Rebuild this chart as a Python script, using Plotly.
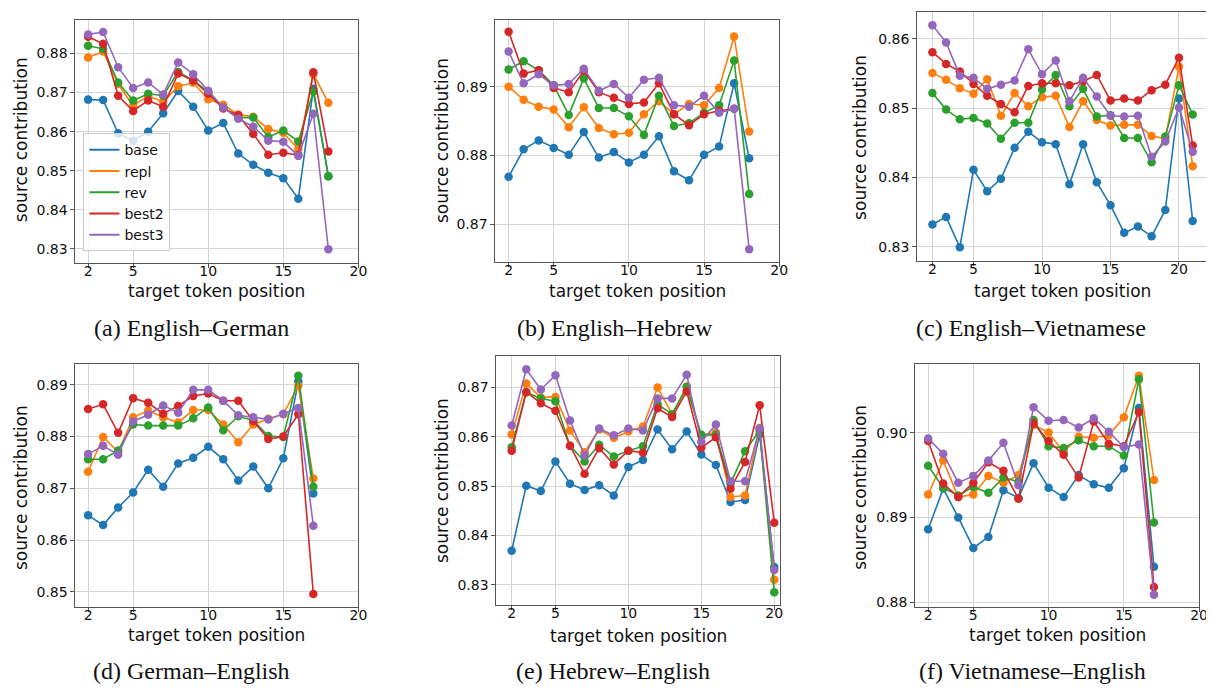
import plotly.graph_objects as go

# ---------------- data ----------------
series_names = ["base", "repl", "rev", "best2", "best3"]
colors = ["#1f77b4", "#ff7f0e", "#2ca02c", "#d62728", "#9467bd"]

# (a) English-German
A_x = list(range(2, 19))
A_base = [0.8682,0.8681,0.8596,0.8577,0.8600,0.8647,0.8704,0.8664,0.8603,0.8622,0.8544,0.8515,0.8495,0.8481,0.8428,0.8710,0.8486]
A_repl = [0.8790,0.8805,0.8722,0.8666,0.8692,0.8676,0.8716,0.8725,0.8683,0.8669,0.8644,0.8638,0.8607,0.8597,0.8555,0.8747,0.8674]
A_rev = [0.8820,0.8812,0.8726,0.8680,0.8697,0.8692,0.8753,0.8731,0.8702,0.8662,0.8636,0.8636,0.8586,0.8603,0.8575,0.8703,0.8486]
A_best2 = [0.8843,0.8825,0.8692,0.8653,0.8680,0.8664,0.8749,0.8731,0.8697,0.8659,0.8642,0.8594,0.8541,0.8546,0.8540,0.8752,0.8549]
A_best3 = [0.8849,0.8855,0.8765,0.8712,0.8726,0.8695,0.8777,0.8747,0.8705,0.8662,0.8633,0.8613,0.8577,0.8574,0.8538,0.8646,0.8299]

# (b) English-Hebrew
B_x = list(range(2, 19))
B_base = [0.8769,0.8809,0.8822,0.8811,0.8801,0.8834,0.8797,0.8805,0.8790,0.8801,0.8828,0.8777,0.8764,0.8801,0.8813,0.8905,0.8796]
B_repl = [0.8900,0.8881,0.8871,0.8867,0.8841,0.8870,0.8840,0.8831,0.8833,0.8860,0.8879,0.8860,0.8875,0.8873,0.8898,0.8973,0.8835]
B_rev = [0.8925,0.8937,0.8924,0.8902,0.8859,0.8912,0.8869,0.8869,0.8857,0.8830,0.8887,0.8843,0.8847,0.8862,0.8873,0.8938,0.8744]
B_best2 = [0.8980,0.8919,0.8924,0.8898,0.8892,0.8923,0.8892,0.8884,0.8875,0.8877,0.8905,0.8860,0.8844,0.8860,0.8865,0.8868]
B_best3 = [0.8951,0.8905,0.8918,0.8902,0.8904,0.8926,0.8894,0.8904,0.8884,0.8910,0.8913,0.8873,0.8871,0.8887,0.8862,0.8868,0.8664]

# (c) English-Vietnamese
C_x = list(range(2, 22))
C_base = [0.8332,0.8343,0.8299,0.8411,0.8380,0.8398,0.8443,0.8466,0.8451,0.8448,0.8390,0.8448,0.8393,0.8360,0.8320,0.8329,0.8315,0.8353,0.8514,0.8337]
C_repl = [0.8551,0.8541,0.8529,0.8521,0.8542,0.8489,0.8522,0.8503,0.8516,0.8518,0.8473,0.8510,0.8483,0.8475,0.8476,0.8476,0.8460,0.8456,0.8560,0.8416]
C_rev = [0.8522,0.8498,0.8484,0.8486,0.8478,0.8456,0.8479,0.8479,0.8527,0.8548,0.8503,0.8528,0.8488,0.8490,0.8457,0.8457,0.8422,0.8459,0.8533,0.8491]
C_best2 = [0.8581,0.8564,0.8553,0.8535,0.8518,0.8506,0.8494,0.8532,0.8536,0.8536,0.8533,0.8539,0.8548,0.8511,0.8514,0.8511,0.8526,0.8534,0.8573,0.8446]
C_best3 = [0.8620,0.8595,0.8547,0.8544,0.8528,0.8534,0.8540,0.8585,0.8549,0.8569,0.8510,0.8544,0.8517,0.8489,0.8488,0.8489,0.8430,0.8452,0.8501,0.8437]

# (d) German-English
D_x = list(range(2, 18))
D_base = [0.8648,0.8629,0.8663,0.8692,0.8736,0.8703,0.8748,0.8759,0.8780,0.8756,0.8715,0.8742,0.8700,0.8758,0.8906,0.8690]
D_repl = [0.8732,0.8799,0.8770,0.8837,0.8850,0.8837,0.8827,0.8851,0.8851,0.8823,0.8789,0.8823,0.8834,0.8843,0.8898,0.8719]
D_rev = [0.8756,0.8756,0.8773,0.8823,0.8821,0.8821,0.8821,0.8835,0.8856,0.8812,0.8839,0.8831,0.8801,0.8799,0.8917,0.8703]
D_best2 = [0.8853,0.8862,0.8807,0.8874,0.8865,0.8844,0.8859,0.8878,0.8883,0.8869,0.8869,0.8830,0.8795,0.8800,0.8843,0.8496]
D_best3 = [0.8766,0.8782,0.8765,0.8829,0.8842,0.8860,0.8846,0.8890,0.8890,0.8869,0.8841,0.8837,0.8833,0.8844,0.8855,0.8628]

# (e) Hebrew-English
E_x = list(range(2, 21))
E_base = [0.8369,0.8501,0.8490,0.8550,0.8505,0.8492,0.8502,0.8481,0.8539,0.8553,0.8615,0.8575,0.8611,0.8564,0.8543,0.8468,0.8472,0.8605,0.8336]
E_repl = [0.8605,0.8708,0.8680,0.8681,0.8613,0.8569,0.8615,0.8598,0.8611,0.8621,0.8700,0.8646,0.8702,0.8603,0.8609,0.8478,0.8481,0.8618,0.8310]
E_rev = [0.8579,0.8690,0.8678,0.8672,0.8582,0.8550,0.8584,0.8560,0.8572,0.8581,0.8666,0.8646,0.8701,0.8604,0.8604,0.8505,0.8571,0.8613,0.8285]
E_best2 = [0.8572,0.8691,0.8668,0.8653,0.8582,0.8525,0.8577,0.8544,0.8572,0.8568,0.8658,0.8640,0.8692,0.8578,0.8599,0.8495,0.8549,0.8664,0.8426]
E_best3 = [0.8623,0.8737,0.8696,0.8725,0.8633,0.8562,0.8617,0.8603,0.8617,0.8613,0.8678,0.8678,0.8726,0.8590,0.8625,0.8510,0.8510,0.8617,0.8330]

# (f) Vietnamese-English
F_x = list(range(2, 18))
F_base = [0.8886,0.8934,0.8900,0.8864,0.8877,0.8932,0.8923,0.8964,0.8935,0.8924,0.8950,0.8939,0.8935,0.8958,0.9029,0.8842]
F_repl = [0.8927,0.8967,0.8924,0.8927,0.8949,0.8941,0.8950,0.9009,0.9000,0.8977,0.8995,0.8994,0.8997,0.9018,0.9067,0.8944]
F_rev = [0.8961,0.8935,0.8926,0.8936,0.8929,0.8947,0.8942,0.9015,0.8984,0.8982,0.8991,0.8984,0.8984,0.8973,0.9063,0.8894]
F_best2 = [0.8990,0.8940,0.8924,0.8941,0.8965,0.8955,0.8922,0.9011,0.8990,0.8974,0.8947,0.9013,0.8987,0.8984,0.9024,0.8818]
F_best3 = [0.8993,0.8975,0.8941,0.8949,0.8967,0.8988,0.8938,0.9030,0.9014,0.9015,0.9006,0.9017,0.9001,0.8983,0.8986,0.8809]

captions = ["(a) English–German", "(b) English–Hebrew", "(c) English–Vietnamese",
            "(d) German–English", "(e) Hebrew–English", "(f) Vietnamese–English"]
x_ticks = [2, 5, 10, 15, 20]
x_title = "target token position"
y_title = "source contribution"

panels = [
    (A_x, [A_base, A_repl, A_rev, A_best2, A_best3]),
    (B_x, [B_base, B_repl, B_rev, B_best2, B_best3]),
    (C_x, [C_base, C_repl, C_rev, C_best2, C_best3]),
    (D_x, [D_base, D_repl, D_rev, D_best2, D_best3]),
    (E_x, [E_base, E_repl, E_rev, E_best2, E_best3]),
    (F_x, [F_base, F_repl, F_rev, F_best2, F_best3]),
]

# ---------------- layout (pixel geometry) ----------------
W, H = 1214, 688
# plot frames: left, right, top, bottom (px)
frames = [
    (68, 353, 12, 256),
    (491, 777, 12, 255),
    (916, 1209, 4, 254),
    (68, 353, 358, 602),
    (492, 778, 350, 600),
    (914, 1200, 358, 602),
]
x_ranges = [(1.16, 20), (1.12, 20), (0.89, 22.12), (1.16, 20), (0.95, 20.41), (1.14, 20)]
y_ranges = [(0.8265, 0.8886), (0.8646, 0.8997), (0.8280, 0.8639),
            (0.8472, 0.8940), (0.8260, 0.8764), (0.8795, 0.9081)]
y_dticks = [0.01] * 6
ytitle_pos = [(13, 132), (437, 133), (859, 130), (13, 482), (437, 475), (859, 482)]
xtitle_y = [285, 285, 285, 631, 632, 631]
caption_pos = [(185, 322), (612, 322), (1031, 322), (185, 667), (610, 667), (1032, 667)]

FONT = "DejaVu Sans"
fig = go.Figure()

for i, (xs, ys_list) in enumerate(panels):
    ax = "" if i == 0 else str(i + 1)
    for s, (name, col, ys) in enumerate(zip(series_names, colors, ys_list)):
        fig.add_trace(go.Scatter(
            x=xs[:len(ys)], y=ys, mode="lines+markers", name=name,
            line=dict(color=col, width=1.6),
            marker=dict(color=col, size=8.5),
            showlegend=False,
            xaxis="x" + ax, yaxis="y" + ax,
        ))

# legend-only entries (line icons) for panel (a)
for name, col in zip(series_names, colors):
    fig.add_trace(go.Scatter(x=[None], y=[None], mode="lines", name=name,
                             line=dict(color=col, width=2), showlegend=True,
                             xaxis="x", yaxis="y"))

annotations = []
for i in range(6):
    l, r, t, b = frames[i]
    ax = "" if i == 0 else str(i + 1)
    common = dict(showline=True, mirror=True, linecolor="#555555", linewidth=1,
                  showgrid=True, gridcolor="#d5d5d5", gridwidth=1,
                  ticks="outside", ticklen=4, tickcolor="#555555",
                  tickfont=dict(family=FONT, size=14, color="#111111"),
                  zeroline=False)
    fig.layout["xaxis" + ax] = dict(
        domain=[l / W, r / W], range=list(x_ranges[i]),
        tickmode="array", tickvals=x_ticks, anchor="y" + ax,
        ticklabelstandoff=-8, **common)
    fig.layout["yaxis" + ax] = dict(
        domain=[1 - b / H, 1 - t / H], range=list(y_ranges[i]),
        dtick=y_dticks[i], tick0=0.80, tickformat=".2f",
        anchor="x" + ax, **common)
    yx, yy = ytitle_pos[i]
    annotations.append(dict(text=y_title, x=yx / W, y=1 - yy / H, xref="paper", yref="paper",
                            textangle=-90, showarrow=False, xanchor="center", yanchor="middle",
                            font=dict(family=FONT, size=17, color="#111111")))
    annotations.append(dict(text=x_title, x=(l + r) / 2 / W, y=1 - xtitle_y[i] / H,
                            xref="paper", yref="paper", showarrow=False,
                            xanchor="center", yanchor="middle",
                            font=dict(family=FONT, size=17, color="#111111")))
    cx, cy = caption_pos[i]
    annotations.append(dict(text=captions[i], x=cx / W, y=1 - cy / H, xref="paper", yref="paper",
                            showarrow=False, xanchor="center", yanchor="middle",
                            font=dict(family="Liberation Serif", size=24, color="#111111")))

fig.update_layout(
    width=W, height=H,
    margin=dict(l=0, r=0, t=0, b=0),
    paper_bgcolor="white", plot_bgcolor="white",
    annotations=annotations,
    showlegend=True,
    legend=dict(x=76 / W, y=1 - 126 / H, xanchor="left", yanchor="top",
                bgcolor="rgba(255,255,255,0.8)", bordercolor="#cccccc", borderwidth=1,
                font=dict(family=FONT, size=14, color="#111111"),
                tracegroupgap=0, itemwidth=30),
)

fig.write_html("out.html")
